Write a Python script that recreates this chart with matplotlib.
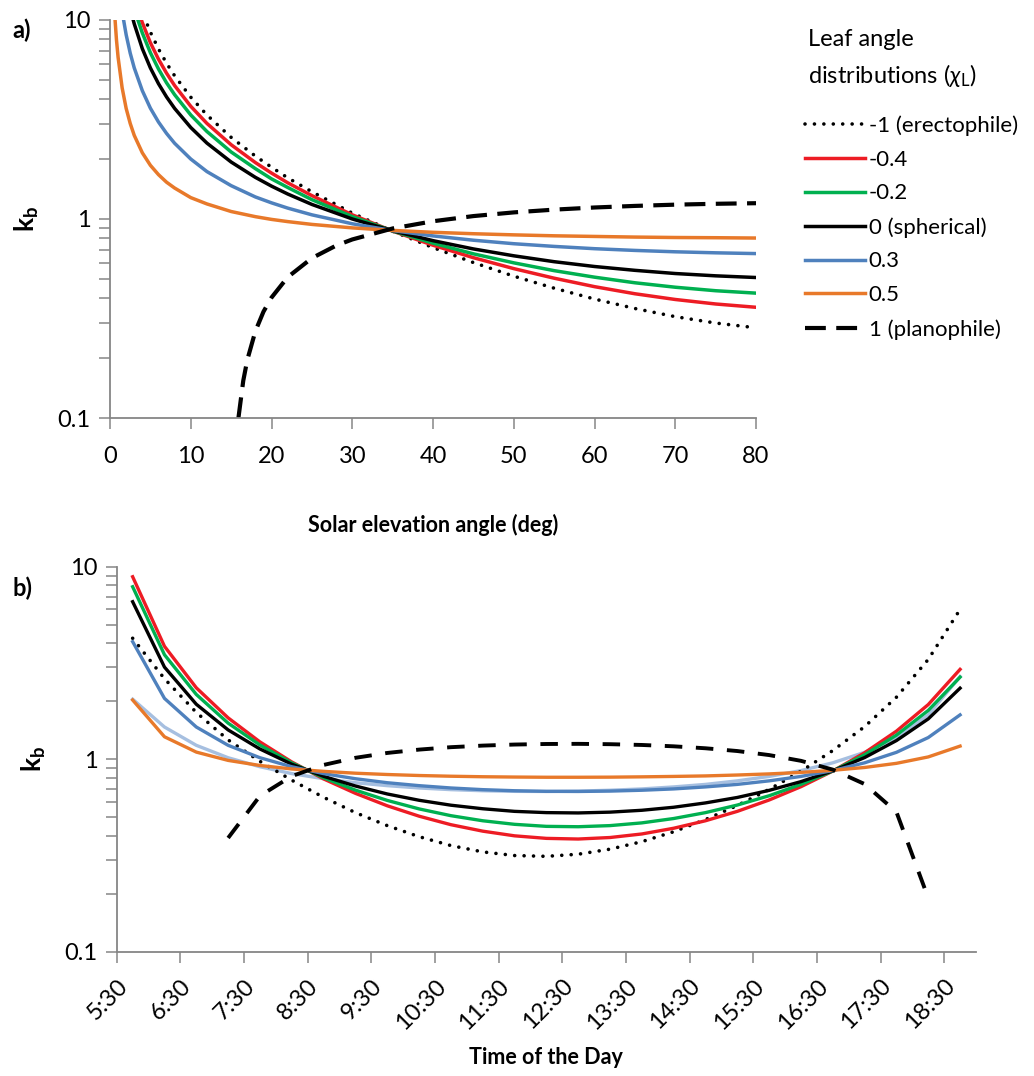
import matplotlib
matplotlib.use('Agg')
import matplotlib.pyplot as plt
from matplotlib.ticker import NullFormatter, LogLocator

plt.rcParams['font.family'] = ['Lato', 'DejaVu Sans']
plt.rcParams['mathtext.fontset'] = 'custom'
plt.rcParams['mathtext.rm'] = 'Lato'
plt.rcParams['mathtext.bf'] = 'Lato:bold'
plt.rcParams['mathtext.it'] = 'Lato:italic'

# ---- panel a: kb vs solar elevation (deg) ----
elev_erect = [4.2, 5, 6, 7, 8, 10, 12, 15, 18, 20, 22, 25, 30, 35, 40, 45, 50, 55, 60, 65, 70, 75, 80]
kb_erect = [10.43, 8.68, 7.15, 6.06, 5.24, 4.09, 3.33, 2.57, 2.07, 1.82, 1.61, 1.37, 1.07, 0.868,
            0.718, 0.604, 0.516, 0.449, 0.396, 0.355, 0.323, 0.300, 0.284]

elev_m04 = [3.8, 4, 5, 6, 7, 8, 10, 12, 15, 18, 20, 22, 25, 30, 35, 40, 45, 50, 55, 60, 65, 70, 75, 80]
kb_m04 = [10.22, 9.69, 7.68, 6.35, 5.40, 4.68, 3.68, 3.02, 2.36, 1.92, 1.70, 1.52, 1.31, 1.049, 0.869,
          0.738, 0.639, 0.563, 0.504, 0.457, 0.421, 0.394, 0.374, 0.360]

elev_m02 = [3.4, 4, 5, 6, 7, 8, 10, 12, 15, 18, 20, 22, 25, 30, 35, 40, 45, 50, 55, 60, 65, 70, 75, 80]
kb_m02 = [10.14, 8.60, 6.84, 5.67, 4.83, 4.21, 3.33, 2.75, 2.17, 1.79, 1.59, 1.44, 1.25, 1.028, 0.870,
          0.756, 0.668, 0.602, 0.550, 0.510, 0.478, 0.454, 0.436, 0.424]

elev_sph = [2.8, 3, 4, 5, 6, 7, 8, 10, 12, 15, 18, 20, 22, 25, 30, 35, 40, 45, 50, 55, 60, 65, 70, 75, 80]
kb_sph = [10.24, 9.555, 7.17, 5.737, 4.784, 4.103, 3.593, 2.880, 2.405, 1.932, 1.618, 1.462, 1.335, 1.183,
          1.000, 0.872, 0.778, 0.707, 0.653, 0.610, 0.577, 0.552, 0.532, 0.518, 0.508]

elev_p03 = [1.6, 2, 2.5, 3, 4, 5, 6, 7, 8, 10, 12, 15, 18, 20, 22, 25, 30, 35, 40, 45, 50, 55, 60, 65, 70, 75, 80]
kb_p03 = [10.43, 8.42, 6.81, 5.74, 4.41, 3.60, 3.07, 2.69, 2.40, 2.00, 1.73, 1.47, 1.29, 1.205, 1.134, 1.049,
          0.946, 0.874, 0.822, 0.782, 0.751, 0.728, 0.709, 0.695, 0.684, 0.676, 0.670]

elev_p05 = [0.6, 0.8, 1, 1.5, 2, 2.5, 3, 4, 5, 6, 7, 8, 10, 12, 15, 18, 20, 22, 25, 30, 35, 40, 45, 50, 55,
            60, 65, 70, 75, 80]
kb_p05 = [10.34, 7.93, 6.49, 4.56, 3.59, 3.02, 2.63, 2.15, 1.86, 1.67, 1.53, 1.43, 1.28, 1.19, 1.09, 1.027,
          0.995, 0.970, 0.939, 0.902, 0.876, 0.857, 0.843, 0.832, 0.823, 0.817, 0.811, 0.807, 0.805, 0.802]

elev_plan = [15.9, 16.5, 17, 18, 19, 20, 22, 25, 28, 30, 35, 40, 45, 50, 55, 60, 65, 70, 75, 80]
kb_plan = [0.1, 0.154, 0.196, 0.273, 0.342, 0.403, 0.510, 0.636, 0.735, 0.789, 0.896, 0.974, 1.034, 1.079,
           1.114, 1.142, 1.163, 1.180, 1.192, 1.200]

# ---- panel b: kb over the day ----
hours = [5.75, 6.25, 6.75, 7.25, 7.75, 8.25, 8.75, 9.25, 9.75, 10.25, 10.75, 11.25, 11.75, 12.25,
         12.75, 13.25, 13.75, 14.25, 14.75, 15.25, 15.75, 16.25, 16.75, 17.25, 17.75, 18.25, 18.75]
day_erect = [4.25, 2.62, 1.75, 1.26, 0.975, 0.778, 0.634, 0.528, 0.452, 0.396, 0.356, 0.330, 0.316, 0.313,
             0.321, 0.341, 0.373, 0.420, 0.486, 0.575, 0.697, 0.866, 1.109, 1.476, 2.10, 3.30, 6.0]
day_m04 = [8.87, 3.86, 2.35, 1.64, 1.23, 0.968, 0.790, 0.665, 0.573, 0.506, 0.457, 0.423, 0.400, 0.388,
           0.385, 0.392, 0.409, 0.438, 0.479, 0.536, 0.614, 0.720, 0.868, 1.080, 1.399, 1.923, 2.93]
day_m02 = [7.87, 3.49, 2.17, 1.54, 1.185, 0.957, 0.801, 0.691, 0.611, 0.552, 0.509, 0.479, 0.459, 0.448,
           0.446, 0.452, 0.467, 0.492, 0.528, 0.578, 0.646, 0.740, 0.869, 1.055, 1.334, 1.793, 2.67]
day_sph = [6.58, 3.01, 1.93, 1.42, 1.13, 0.942, 0.815, 0.726, 0.660, 0.612, 0.577, 0.553, 0.536, 0.528,
           0.526, 0.531, 0.543, 0.563, 0.593, 0.633, 0.689, 0.765, 0.870, 1.02, 1.25, 1.62, 2.34]
day_p03 = [4.08, 2.07, 1.47, 1.181, 1.018, 0.914, 0.842, 0.792, 0.755, 0.729, 0.709, 0.695, 0.686, 0.681,
           0.680, 0.683, 0.690, 0.701, 0.718, 0.740, 0.772, 0.814, 0.873, 0.958, 1.086, 1.296, 1.70]
day_p03_faint = [2.05, 1.47, 1.181, 1.018, 0.914, 0.842, 0.792, 0.755, 0.729, 0.709, 0.695, 0.686, 0.681,
                 0.680, 0.683, 0.690, 0.701, 0.718, 0.740, 0.772, 0.814, 0.873, 0.958, 1.086, 1.296, 1.70, 2.69]
day_p05 = [2.03, 1.308, 1.089, 0.986, 0.928, 0.890, 0.865, 0.846, 0.833, 0.823, 0.816, 0.811, 0.808, 0.806,
           0.806, 0.807, 0.810, 0.814, 0.819, 0.828, 0.839, 0.854, 0.876, 0.906, 0.952, 1.028, 1.17]
hours_plan = hours[3:26]
day_plan = [0.39, 0.645, 0.817, 0.934, 1.017, 1.078, 1.122, 1.155, 1.177, 1.192, 1.200, 1.202, 1.197,
            1.186, 1.167, 1.140, 1.103, 1.051, 0.981, 0.883, 0.743, 0.532, 0.19]

hour_ticks = [5.5, 6.5, 7.5, 8.5, 9.5, 10.5, 11.5, 12.5, 13.5, 14.5, 15.5, 16.5, 17.5, 18.5]
hour_labels = ['5:30', '6:30', '7:30', '8:30', '9:30', '10:30', '11:30', '12:30', '13:30', '14:30',
               '15:30', '16:30', '17:30', '18:30']

labels = ['-1 (erectophile)', '-0.4', '-0.2', '0 (spherical)', '0.3', '0.5', '1 (planophile)']
RED, GREEN, BLUE, ORANGE, LBLUE = '#ed1c24', '#00b050', '#4f81bd', '#e8792a', '#a6bfe0'
DOTS = (0, (0.01, 2.6))
GRAY = '#868686'


def style_axes(ax):
    ax.set_yscale('log')
    ax.set_ylim(0.1, 10)
    ax.set_yticks([0.1, 1, 10])
    ax.set_yticklabels(['0.1', '1', '10'])
    ax.yaxis.set_minor_locator(LogLocator(base=10, subs=range(2, 10)))
    ax.yaxis.set_minor_formatter(NullFormatter())
    for side in ['top', 'right']:
        ax.spines[side].set_visible(False)
    for side in ['left', 'bottom']:
        ax.spines[side].set_color(GRAY)
        ax.spines[side].set_linewidth(1.3)
    ax.tick_params(which='both', direction='out', length=8, width=1.1, color=GRAY,
                   labelsize=17, pad=6)
    ax.set_ylabel(r'$\mathbf{k_b}$', fontsize=19, labelpad=12)


fig = plt.figure(figsize=(10.34, 10.76), dpi=100)

# panel a
ax1 = fig.add_axes([0.1064, 0.6115, 0.6248, 0.370])
ax1.plot(elev_erect, kb_erect, color='black', lw=2.6, ls=DOTS, dash_capstyle='round', label=labels[0])
ax1.plot(elev_m04, kb_m04, color=RED, lw=2.5, label=labels[1])
ax1.plot(elev_m02, kb_m02, color=GREEN, lw=2.5, label=labels[2])
ax1.plot(elev_sph, kb_sph, color='black', lw=2.5, label=labels[3])
ax1.plot(elev_p03, kb_p03, color=BLUE, lw=2.5, label=labels[4])
ax1.plot(elev_p05, kb_p05, color=ORANGE, lw=2.5, label=labels[5])
ax1.plot(elev_plan, kb_plan, color='black', lw=3.0, ls=(0, (5, 2.5)), label=labels[6])
ax1.set_xlim(0, 80)
ax1.set_xticks(range(0, 81, 10))
style_axes(ax1)
ax1.tick_params(axis='x', pad=12)
ax1.set_xlabel('Solar elevation angle (deg)', fontsize=15.5, fontweight='bold', labelpad=34)

fig.text(0.781, 0.963, 'Leaf angle', fontsize=17, va='center')
fig.text(0.781, 0.930, 'distributions ($\\chi_{\\rm L}$)', fontsize=17, va='center')
leg = ax1.legend(loc='upper left', bbox_to_anchor=(0.779, 0.893), bbox_transform=fig.transFigure,
                 frameon=False, fontsize=16, handlelength=2.7, handletextpad=0.15,
                 labelspacing=0.62, borderpad=0, borderaxespad=0)

# panel b
ax2 = fig.add_axes([0.1129, 0.1155, 0.831, 0.3578])
ax2.plot(hours, day_p03_faint, color=LBLUE, lw=2.4)
ax2.plot(hours, day_erect, color='black', lw=2.6, ls=DOTS, dash_capstyle='round')
ax2.plot(hours, day_m04, color=RED, lw=2.4)
ax2.plot(hours, day_m02, color=GREEN, lw=2.4)
ax2.plot(hours, day_sph, color='black', lw=2.4)
ax2.plot(hours, day_p03, color=BLUE, lw=2.4)
ax2.plot(hours, day_p05, color=ORANGE, lw=2.4)
ax2.plot(hours_plan, day_plan, color='black', lw=2.8, ls=(0, (4.5, 3.5)))
ax2.set_xlim(5.5, 19.0)
ax2.set_xticks(hour_ticks)
ax2.set_xticklabels(hour_labels, rotation=45, ha='right', rotation_mode='anchor')
style_axes(ax2)
ax2.tick_params(axis='x', pad=9)
ax2.set_xlabel('Time of the Day', fontsize=15.5, fontweight='bold', labelpad=10)

fig.text(0.012, 0.972, 'a)', fontsize=17, fontweight='bold', va='center')
fig.text(0.012, 0.453, 'b)', fontsize=17, fontweight='bold', va='center')

fig.savefig('out.png', dpi=100)
